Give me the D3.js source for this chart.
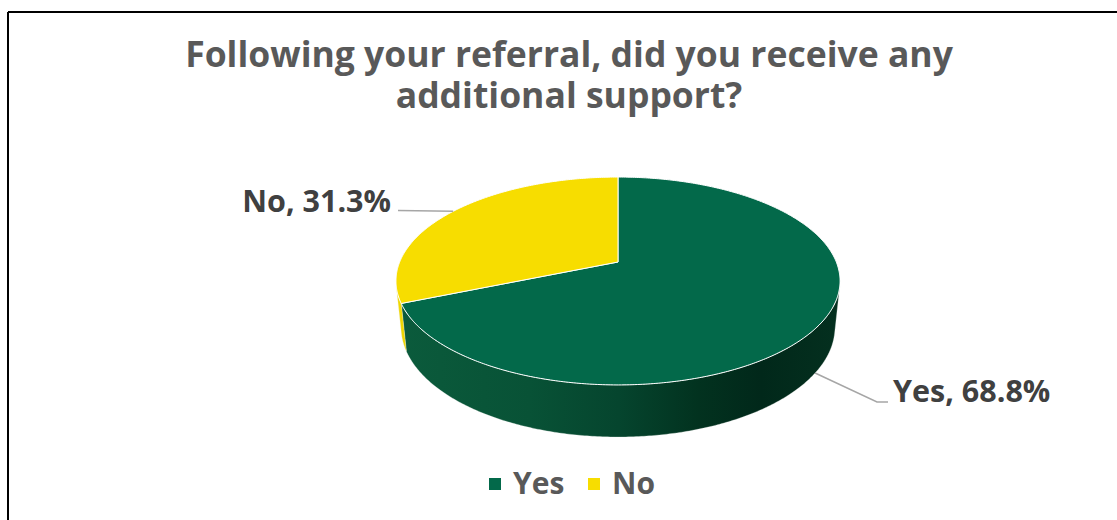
<!DOCTYPE html>
<html>
<head>
<meta charset="utf-8">
<script src="https://cdn.jsdelivr.net/npm/d3@7"></script>
<style>
  html, body { margin: 0; padding: 0; background: #ffffff; }
  svg { display: block; }
  text { font-family: "Open Sans", "Noto Sans", sans-serif; font-weight: 700; }
</style>
</head>
<body>
<svg id="chart" width="1117" height="520"></svg>
<script>
// Survey answers
const categories = ["Yes", "No"];
const values = [68.8, 31.3];
const sliceColors = ["#03694a", "#f7dd00"];
const titleLines = ["Following your referral, did you receive any", "additional support?"];

const W = 1117, H = 520;
const svg = d3.select("#chart");

// Frame (top and left edges of the chart area)
svg.append("line").attr("x1", 8).attr("y1", 12).attr("x2", W).attr("y2", 12)
  .attr("stroke", "#000").attr("stroke-width", 2);
svg.append("line").attr("x1", 8).attr("y1", 12).attr("x2", 8).attr("y2", H)
  .attr("stroke", "#000").attr("stroke-width", 2);

// Title, wrapped over two lines
svg.append("text")
  .attr("text-anchor", "middle")
  .attr("font-size", 35.5)
  .attr("fill", "#595959")
  .selectAll("tspan").data(titleLines).join("tspan")
  .attr("x", 569).attr("y", (d, i) => 67 + i * 41)
  .text(d => d);

// 3D pie: a tilted disc seen in perspective
const cx = 618, cy0 = 262;   // screen position of the disc centre
const focal = 1061.3;        // focal length (px), camera distance = 1
const R = 0.2057;            // disc radius relative to camera distance
const thick = 0.0494;        // disc thickness
const tilt = 27.4 * Math.PI / 180;
const sinT = Math.sin(tilt), cosT = Math.cos(tilt);

function project(phi, r, h) {
  const x = r * R * Math.sin(phi);
  const z = r * R * Math.cos(phi);
  const yc = z * sinT + h * cosT;
  const dc = 1 + z * cosT - h * sinT;
  return [cx + focal * x / dc, cy0 - focal * yc / dc];
}

function arcPoints(a0, a1, h) {
  const n = Math.max(2, Math.ceil(Math.abs(a1 - a0) / 0.01));
  return d3.range(n + 1).map(i => project(a0 + (a1 - a0) * i / n, 1, h));
}

const pie = d3.pie().sort(null).value(d => d.value).startAngle(0).endAngle(2 * Math.PI);
const slices = pie(categories.map((c, i) => ({ name: c, value: values[i], color: sliceColors[i] })));

const line = d3.line();

// Visible band of the side wall (silhouette generators)
const silA = Math.acos(-R / cosT);
const visStart = silA, visEnd = 2 * Math.PI - silA;

const defs = svg.append("defs");
const gGreen = defs.append("linearGradient").attr("id", "sideGreen")
  .attr("gradientUnits", "userSpaceOnUse")
  .attr("x1", 396).attr("y1", 0).attr("x2", 841).attr("y2", 0);
[[0, "#0b5b3c"], [0.3, "#085236"], [0.5, "#05452e"], [0.68, "#02321f"], [0.82, "#01281a"], [1, "#04301f"]]
  .forEach(([o, c]) => gGreen.append("stop").attr("offset", o).attr("stop-color", c));
const gYellow = defs.append("linearGradient").attr("id", "sideYellow")
  .attr("gradientUnits", "userSpaceOnUse")
  .attr("x1", 396).attr("y1", 0).attr("x2", 420).attr("y2", 0);
gYellow.append("stop").attr("offset", 0).attr("stop-color", "#f2da00");
gYellow.append("stop").attr("offset", 1).attr("stop-color", "#e6cd00");

const sideFill = { Yes: "url(#sideGreen)", No: "url(#sideYellow)" };

const pieG = svg.append("g");

// Side walls
slices.forEach(s => {
  const a0 = Math.max(s.startAngle, visStart);
  const a1 = Math.min(s.endAngle, visEnd);
  if (a1 <= a0) return;
  const pts = arcPoints(a0, a1, 0).concat(arcPoints(a1, a0, -thick));
  pieG.append("path")
    .attr("d", line(pts) + "Z")
    .attr("fill", sideFill[s.data.name])
    .attr("stroke", "#e8ece9")
    .attr("stroke-opacity", 0.35)
    .attr("stroke-width", 0.8);
});

// Top faces
slices.forEach(s => {
  const pts = [project(0, 0, 0)].concat(arcPoints(s.startAngle, s.endAngle, 0));
  pieG.append("path")
    .attr("d", line(pts) + "Z")
    .attr("fill", s.data.color)
    .attr("stroke", "#ffffff")
    .attr("stroke-width", 1)
    .attr("stroke-linejoin", "round");
});

// Data labels with leader lines
const labelG = svg.append("g");
slices.forEach(s => {
  const mid = (s.startAngle + s.endAngle) / 2;
  const label = `${s.data.name}, ${s.data.value.toFixed(1)}%`;
  if (s.data.name === "No") {
    const p = project(mid, 1, 0);
    labelG.append("path").attr("d", line([p, [398, 210.5]]))
      .attr("fill", "none").attr("stroke", "#a6a6a6").attr("stroke-width", 1.5);
    labelG.append("text").attr("x", 391).attr("y", 212)
      .attr("text-anchor", "end").attr("font-size", 30.5).attr("fill", "#404040").text(label);
  } else {
    const p = project(mid, 1, -thick);
    labelG.append("path").attr("d", line([p, [877, 402], [888, 402]]))
      .attr("fill", "none").attr("stroke", "#a6a6a6").attr("stroke-width", 1.5);
    labelG.append("text").attr("x", 893).attr("y", 402)
      .attr("text-anchor", "start").attr("font-size", 30.5).attr("fill", "#404040").text(label);
  }
});

// Legend
const legendX = [489, 588];
const legend = svg.append("g").selectAll("g").data(categories).join("g")
  .attr("transform", (d, i) => `translate(${legendX[i]},478)`);
legend.append("rect").attr("width", 12).attr("height", 12)
  .attr("fill", (d, i) => sliceColors[i]);
legend.append("text").attr("x", 24).attr("y", 16)
  .attr("font-size", 30).attr("fill", "#595959").text(d => d);
</script>
</body>
</html>
